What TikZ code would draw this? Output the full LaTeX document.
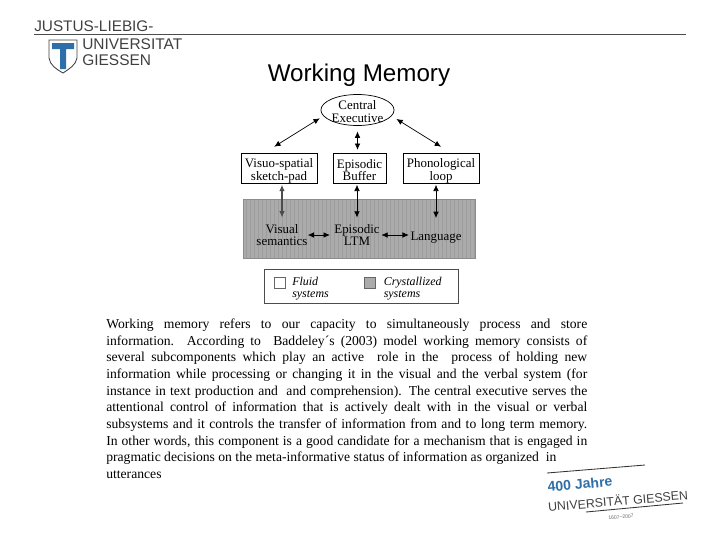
\documentclass[tikz,border=0pt]{standalone}
\usepackage{fontspec}
\setmainfont{Liberation Serif}
\setsansfont{Liberation Sans}
\usepackage{tikz}
\usetikzlibrary{arrows.meta, shapes.geometric}
\definecolor{crystalgray}{HTML}{ABABAB}
\definecolor{stripegray}{HTML}{9C9C9C}
\definecolor{unilineblue}{HTML}{2F6FA8}
\tikzset{
	fluidbox/.style={draw, line width=0.5pt, fill=white, font=\fontsize{9.2}{9}\selectfont, align=center, minimum height=30*0.025cm, inner sep=0pt},
	memlabel/.style={font=\fontsize{9.2}{9}\selectfont, align=center, inner sep=0pt},
	legendtext/.style={font=\fontsize{8.5}{8.6}\selectfont\itshape, align=left, inner sep=0pt, anchor=west},
	memarrow/.style={{Latex[length=4.5pt,width=4pt]}-{Latex[length=4.5pt,width=4pt]}, line width=0.5pt},
	logotext/.style={font=\sffamily\fontsize{11}{13}\selectfont, text=black!75, inner sep=0pt, anchor=west}
}
\newcommand{\droptext}[2]{\raisebox{#1}[0pt][0pt]{\begin{tabular}{@{}c@{}}#2\end{tabular}}}
\begin{document}
\begin{tikzpicture}[x=0.025cm, y=-0.025cm]
      \useasboundingbox (0,0) rectangle (720,540);
      % university logo, top left
      \coordinate (ruleleft) at (34,34);
      \coordinate (ruleright) at (686,34);
      \draw[line width=0.7pt, black!70] (ruleleft) -- (ruleright);
      \node[logotext, font=\sffamily\fontsize{10.9}{12}\selectfont] (justus) at (34,26) {JUSTUS-LIEBIG-};
      \node[logotext] (universitat) at (82,44.5) {UNIVERSITAT};
      \node[logotext] (giessen) at (82,60.5) {GIESSEN};
      % shield
      \draw[line width=0.6pt, black!75, fill=white] (49,40) -- (77,40) -- (77,58) .. controls (76,65) and (69,69) .. (63,73) .. controls (56,69) and (50,65) .. (49,58) -- cycle;
      \fill[unilineblue] (52,43) -- (74,43) -- (74,49) -- (66,49) -- (66,69) -- (60,69) -- (60,49) -- (52,49) -- cycle;
      % title
      \node[font=\sffamily\fontsize{17.2}{18}\selectfont, inner sep=0pt] (title) at (359,75.5) {Working Memory};
      % crystallized background
      \node[draw=black!45, fill=crystalgray, minimum width=232*0.025cm, minimum height=59*0.025cm, inner sep=0pt] (crystal) at (359,228.5) {};
      \foreach \x in {246,250,...,474}
        \draw[stripegray, line width=0.6pt] (\x,200) -- (\x,257.5);
      % fluid systems
      \node[draw, line width=0.5pt, fill=white, ellipse, minimum width=73*0.025cm, minimum height=31*0.025cm, inner sep=0pt, font=\fontsize{9.2}{9}\selectfont] (central) at (357.5,110) {\droptext{-4.5pt}{Central\\Executive}};
      \node[fluidbox, minimum width=76*0.025cm] (visuo) at (279,168) {\droptext{-4.5pt}{Visuo-spatial\\sketch-pad}};
      \node[fluidbox, minimum width=53*0.025cm] (buffer) at (359.5,168) {\droptext{-5pt}{Episodic\\Buffer}};
      \node[fluidbox, minimum width=76*0.025cm] (phono) at (441,168) {\droptext{-4.5pt}{Phonological\\loop}};
      % crystallized systems
      \node[memlabel] (semantics) at (282,235) {Visual\\semantics};
      \node[memlabel] (ltm) at (357,235) {Episodic\\LTM};
      \node[memlabel] (language) at (436,238) {Language};
      % connectors
      \draw[memarrow, shorten <=3pt, shorten >=8pt] (central.190) -- (visuo.133);
      \draw[memarrow, shorten <=4pt, shorten >=2pt] (central.south) -- (central.south |- buffer.north);
      \draw[memarrow, shorten <=4pt, shorten >=8pt] (central.350) -- (phono.58);
      \draw[memarrow, line width=0.9pt, black!70, shorten <=1pt, shorten >=4.5pt] (visuo.south -| semantics) -- (semantics.north);
      \draw[memarrow, shorten <=1pt, shorten >=4.5pt] (buffer.south -| ltm) -- (ltm.north);
      \draw[memarrow, shorten <=1pt, shorten >=10pt] (phono.south -| language) -- (language.north);
      \draw[memarrow, shorten <=0pt, shorten >=3pt] (semantics.east |- ltm) -- (ltm.west);
      \draw[memarrow, shorten <=1pt, shorten >=1pt] (ltm.east) -- (ltm.east -| language.west);
      % legend
      \node[draw=black!70, line width=0.5pt, fill=white, minimum width=194*0.025cm, minimum height=34*0.025cm, inner sep=0pt] (legend) at (361,286) {};
      \node[draw=black!60, line width=0.4pt, fill=white, minimum size=11*0.025cm, inner sep=0pt] (fluidkey) at (279.5,282.5) {};
      \node[draw=black!60, line width=0.4pt, fill=crystalgray, minimum size=11*0.025cm, inner sep=0pt] (crystalkey) at (370,282.5) {};
      \node[legendtext] (fluidtext) at (292,288.5) {Fluid\\systems};
      \node[legendtext] (crystaltext) at (383.5,288.5) {Crystallized\\systems};
      % body text
      \node[anchor=north west, inner sep=0pt, text width=481*0.025cm, font=\fontsize{9.7}{11.85}\selectfont, align=justify] (body) at (106,318.5) {%
        Working memory refers to our capacity to simultaneously process and store\linebreak
        information. According to \ Baddeley´s (2003) model working memory consists of\linebreak
        several subcomponents which play an active \ role in the \ process of holding new\linebreak
        information while processing or changing it in the visual and the verbal system (for\linebreak
        instance in text production and \ and comprehension). The central executive serves the\linebreak
        attentional control of information that is actively dealt with in the visual or verbal\linebreak
        subsystems and it controls the transfer of information from and to long term memory.\linebreak
        In other words, this component is a good candidate for a mechanism that is engaged in\linebreak
        pragmatic decisions on the meta-informative status of information as organized \ in\\
        utterances};
      % jubilee logo, bottom right
      \coordinate (jubtopa) at (547,473);
      \coordinate (jubtopb) at (645,465);
      \coordinate (jubbota) at (586,512);
      \coordinate (jubbotb) at (683,503);
      \draw[line width=0.6pt, black!80] (jubtopa) -- (jubtopb);
      \draw[line width=0.6pt, black!80] (jubbota) -- (jubbotb);
      \node[rotate=5, inner sep=0pt, font=\sffamily\bfseries\fontsize{10}{11}\selectfont, text=unilineblue] (jahre) at (580,484) {400 Jahre};
      \node[rotate=5, inner sep=0pt, font=\sffamily\fontsize{8.8}{10}\selectfont, text=black!75] (jubuni) at (618,500.5) {UNIVERSITÄT GIESSEN};
      \node[rotate=5, inner sep=0pt, font=\sffamily\fontsize{3.6}{4}\selectfont, text=black!60] (jubyears) at (621,517) {1607–2007};
    \end{tikzpicture}
\end{document}
